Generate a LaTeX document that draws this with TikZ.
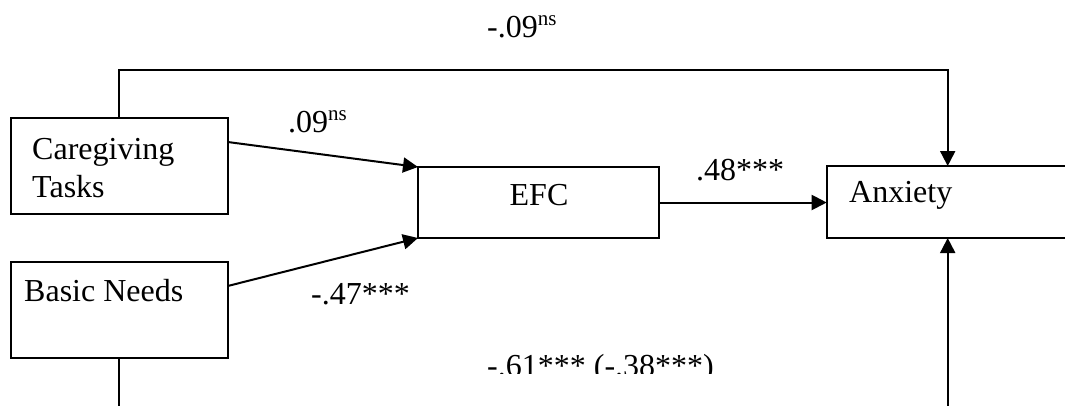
\documentclass[tikz,border=0pt]{standalone}
\usepackage{fontspec}
\setmainfont{Liberation Serif}
\usetikzlibrary{arrows.meta,calc}
\newcommand\mysup[1]{\raisebox{12pt}{\fontsize{21}{21}\selectfont #1}}
\begin{document}
\begin{tikzpicture}[x=1pt,y=-1pt,
  box/.style={draw,line width=2pt,rectangle,inner sep=0pt,outer sep=0pt},
  lbl/.style={inner sep=0pt,anchor=base west,font=\fontsize{32}{38}\selectfont},
  conn/.style={line width=2pt},
  arr/.style={conn,-{Triangle[length=15pt,width=15pt]}}]
\useasboundingbox (0,0) rectangle (1065,405);
\clip (0,0) rectangle (1065,405);
% boxes
\node[box,minimum width=216.7pt,minimum height=96pt] (ct) at (119.35,166) {};
\node[box,minimum width=216.7pt,minimum height=96pt] (bn) at (119.35,310) {};
\node[box,minimum width=241pt,minimum height=71pt] (efc) at (538.5,202.5) {};
\node[box,minimum width=242pt,minimum height=72pt] (anx) at (947.7,202) {};
% box texts
\node[lbl] (tct1) at (32,159) {Caregiving};
\node[lbl] (tct2) at (32,197) {Tasks};
\node[lbl] (tbn) at (24,301) {Basic Needs};
\node[lbl,anchor=base] (tefc) at (539,205) {EFC};
\node[lbl] (tanx) at (849,202) {Anxiety};
% coefficient labels
\node[lbl] (l1) at (487,37) {-.09\mysup{ns}};
\node[lbl] (l2) at (288,132) {.09\mysup{ns}};
\node[lbl] (l3) at (696,180) {.48***};
\node[lbl] (l4) at (311,304) {-.47***};
\begin{scope}
\clip (0,0) rectangle (1065,373.5);
\node[lbl] (l5) at (487,376) {-.61*** (-.38***)};
\end{scope}
% connectors
\coordinate (top) at (0,70);
\coordinate (bot) at (0,420);
\draw[arr] ([yshift=24pt]ct.east) -- (efc.north west);
\draw[arr] ([yshift=24pt]bn.east) -- (efc.south west);
\draw[arr] (efc.east) -- (efc.east -| anx.west);
\draw[arr] (ct.north) -- (ct.north |- top) -- (anx.north |- top) -- (anx.north);
\draw[conn] (bn.south) -- (bn.south |- bot);
\draw[arr] (anx.south |- bot) -- (anx.south);
\end{tikzpicture}
\end{document}
